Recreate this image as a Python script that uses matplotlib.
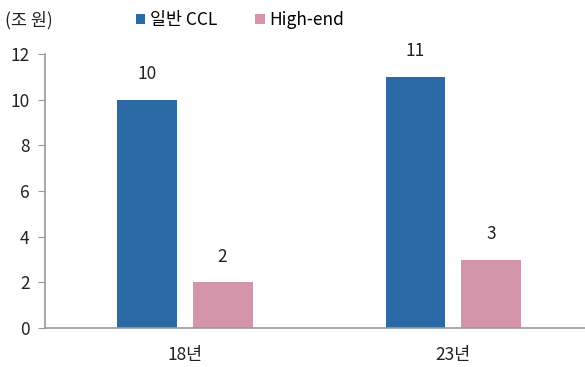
import matplotlib
matplotlib.use("Agg")
import matplotlib.pyplot as plt
import numpy as np

plt.rcParams['font.family'] = ['Noto Sans CJK KR', 'DejaVu Sans']

categories = ["18년", "23년"]
general_ccl = [10, 11]
high_end = [2, 3]
series_names = ["일반 CCL", "High-end"]
yticks = [0, 2, 4, 6, 8, 10, 12]

blue = "#2C6AA6"
pink = "#D494A9"
spine = "#999999"
fs = 12.5

fig = plt.figure(figsize=(5.85, 3.67), dpi=100)
ax = fig.add_axes([45 / 585, 39 / 367, 540 / 585, 274 / 367])

x = np.arange(len(categories))
w = 0.223
off = 0.141
b1 = ax.bar(x - off, general_ccl, w, color=blue, label=series_names[0])
b2 = ax.bar(x + off, high_end, w, color=pink, label=series_names[1])

for bars, vals in ((b1, general_ccl), (b2, high_end)):
    for rect, v in zip(bars, vals):
        ax.annotate(f"{v}", (rect.get_x() + rect.get_width() / 2, v),
                    xytext=(0, 12), textcoords="offset points",
                    ha="center", va="bottom", fontsize=fs, color="#222222")

ax.set_xlim(-0.52, 1.49)
ax.set_ylim(0, 12)
ax.set_yticks(yticks)
ax.set_xticks(x)
ax.set_xticklabels(categories)
ax.tick_params(axis="y", direction="out", length=5, color=spine, labelsize=fs,
               labelcolor="#222222", pad=6)
ax.tick_params(axis="x", length=0, labelsize=fs, labelcolor="#222222", pad=13)

for s in ("top", "right"):
    ax.spines[s].set_visible(False)
for s in ("left", "bottom"):
    ax.spines[s].set_color(spine)
    ax.spines[s].set_linewidth(1.2)

fig.text(5 / 585, 1 - 20 / 367, "(조 원)", fontsize=fs, va="center", ha="left", color="#222222")

leg = ax.legend(loc="center left", bbox_to_anchor=(120 / 585, 1 - 20 / 367),
                bbox_transform=fig.transFigure, ncol=2, frameon=False,
                fontsize=fs, handlelength=0.55, handleheight=0.55,
                handletextpad=0.25, columnspacing=2.2)

fig.savefig("out.png", dpi=100)
